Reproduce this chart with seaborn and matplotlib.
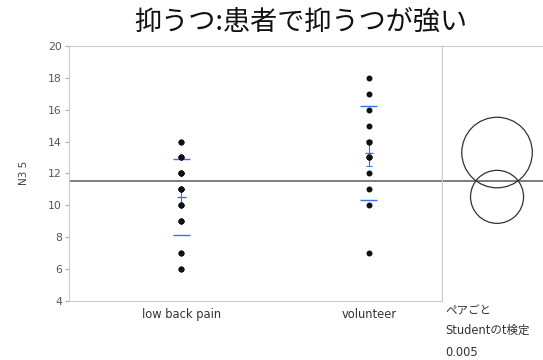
"""Depression score (N3 5) by group, with comparison circles."""

import matplotlib.pyplot as plt
import seaborn as sns
import pandas as pd
import numpy as np
from matplotlib.patches import Circle

# Data (duplicates overlap on the plot)
groups = ['low back pain', 'volunteer']
low_back_pain = [14, 14, 13, 13, 13, 12, 12, 12, 12, 11, 11, 11, 11,
                 10, 10, 10, 9, 9, 9, 7, 7, 6, 6]
volunteer = [18, 17, 16, 15, 14, 14, 13, 13, 13, 12, 11, 10, 7]
y_ticks = [4, 6, 8, 10, 12, 14, 16, 18, 20]
t_crit = 3.07  # Student t, alpha = 0.005, df = 34

df = pd.DataFrame({
    'group': ['low back pain'] * len(low_back_pain) + ['volunteer'] * len(volunteer),
    'N3 5': low_back_pain + volunteer,
})

sns.set_style('white')
plt.rcParams['font.family'] = ['DejaVu Sans', 'Noto Sans CJK JP']

fig = plt.figure(figsize=(5.43, 3.6), dpi=100)
ax = fig.add_axes([0.127, 0.165, 0.687, 0.707])
ax2 = fig.add_axes([0.814, 0.165, 0.186, 0.707], sharey=ax)

sns.stripplot(data=df, x='group', y='N3 5', order=groups, jitter=False,
              color='#111111', size=4.3, ax=ax, zorder=3)

# Group stats
stats = df.groupby('group')['N3 5'].agg(['mean', 'std', 'count']).reindex(groups)
grand_mean = df['N3 5'].mean()
resid = df['N3 5'] - df.groupby('group')['N3 5'].transform('mean')
pooled_sd = np.sqrt((resid ** 2).sum() / (len(df) - len(groups)))

blue = '#3d6fe8'
for i, g in enumerate(groups):
    m, s, n = stats.loc[g, 'mean'], stats.loc[g, 'std'], stats.loc[g, 'count']
    se = s / np.sqrt(n)
    # std dev lines
    ax.hlines([m - s, m + s], i - 0.045, i + 0.045, color=blue, lw=1, zorder=2)
    # mean with SE error bar
    ax.hlines(m, i - 0.022, i + 0.022, color=blue, lw=1, zorder=2)
    ax.errorbar(i, m, yerr=se, color=blue, lw=0.8, capsize=2.2,
                capthick=0.8, zorder=2)

ax.axhline(grand_mean, color='#666666', lw=1.2, zorder=1)
ax2.axhline(grand_mean, color='#666666', lw=1.2, zorder=1)

ax.set_xlim(-0.6, 1.39)
ax.set_ylim(4, 20)
ax.set_yticks(y_ticks)
ax.set_xlabel('')
ax.set_ylabel('N3 5', fontsize=7.5, color='#444444', labelpad=14)
ax.set_xticks([0, 1])
ax.set_xticklabels(groups)
ax.set_xticks([0.59], minor=True)
ax.tick_params(axis='x', which='major', length=0, labelsize=8.3,
               labelcolor='#333333', pad=5)
ax.tick_params(axis='x', which='minor', length=4, color='#aaaaaa', width=0.8)
ax.tick_params(axis='y', length=3, color='#aaaaaa', labelsize=7.8,
               labelcolor='#555555', left=True, pad=2)
for sp in ax.spines.values():
    sp.set_color('#cccccc')
    sp.set_linewidth(0.8)

# Comparison circles, kept round in pixels
bbox = ax2.get_window_extent()
y_units = 16
x_units = y_units * bbox.width / bbox.height
ax2.set_xlim(-0.545 * x_units, 0.455 * x_units)
for g in groups:
    r = t_crit * pooled_sd / np.sqrt(stats.loc[g, 'count'])
    ax2.add_patch(Circle((0, stats.loc[g, 'mean']), r, fill=False,
                         edgecolor='#333333', lw=0.9))
ax2.set_xticks([])
ax2.tick_params(axis='y', left=False, labelleft=False)
for sp in ['right', 'bottom']:
    ax2.spines[sp].set_visible(False)
ax2.spines['left'].set_color('#cccccc')
ax2.spines['top'].set_color('#cccccc')
ax2.spines['left'].set_linewidth(0.8)
ax2.spines['top'].set_linewidth(0.8)

for txt, y in [('ペアごと', 311), ('Studentのt検定', 330), ('0.005', 352)]:
    fig.text(445 / 543, 1 - y / 360, txt, fontsize=8.3, color='#333333',
             va='center', ha='left')

fig.text(301 / 543, 1 - 22 / 360, '抑うつ:患者で抑うつが強い', fontsize=19.5,
         ha='center', va='center', color='#111111',
         family=['Noto Sans CJK JP', 'DejaVu Sans'])

plt.savefig('out.png', dpi=100)
